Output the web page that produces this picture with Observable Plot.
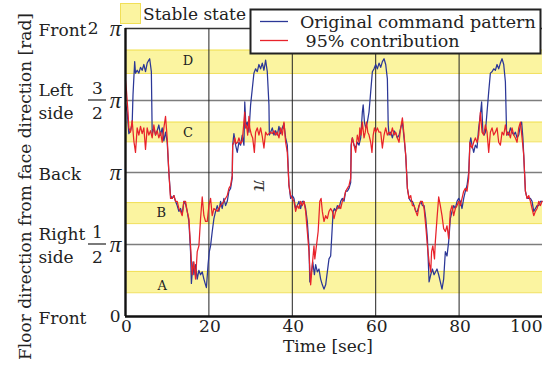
<!DOCTYPE html>
<html><head><meta charset="utf-8">
<script src="https://cdn.jsdelivr.net/npm/d3@7"></script>
<script src="https://cdn.jsdelivr.net/npm/@observablehq/plot@0.6"></script>
<style>
body{margin:0;background:#fff;}
#chart{width:551px;height:365px;}
</style></head><body><div id="chart"></div>
<script>
// time [sec], floor direction [units of π rad]
const originalPattern = [
[0.0,1.48],[0.4,1.42],[0.8,1.27],[1.2,1.29],[1.6,1.34],[1.8,1.54],[2.2,1.77],[2.4,1.69],[2.8,1.71],[3.2,1.69],[3.6,1.73],[4.0,1.71],[4.4,1.75],[4.8,1.70],[5.2,1.76],[5.6,1.78],[5.8,1.79],[6.2,1.70],[6.4,1.27],[6.8,1.31],[7.2,1.26],[7.6,1.29],[8.0,1.33],[8.4,1.26],[8.8,1.31],[9.2,1.22],[9.6,1.28],[10.0,1.21],[10.4,1.00],[10.8,0.84],[11.2,0.82],[11.6,0.84],[12.0,0.80],[12.4,0.77],[12.8,0.73],[13.2,0.75],[13.6,0.71],[14.0,0.80],[14.4,0.78],[14.8,0.73],[15.2,0.66],[15.6,0.45],[15.8,0.23],[16.2,0.38],[16.4,0.29],[16.8,0.36],[17.2,0.26],[17.6,0.32],[18.0,0.29],[18.4,0.31],[18.8,0.26],[19.2,0.22],[19.4,0.20],[19.8,0.36],[20.1,0.45],[20.4,0.49],[20.8,0.59],[21.2,0.68],[21.6,0.73],[22.0,0.77],[22.4,0.73],[22.8,0.80],[23.2,0.75],[23.6,0.82],[24.0,0.77],
[24.4,0.80],[24.8,0.87],[25.2,0.89],[25.6,0.96],[25.7,1.19],[26.0,1.27],[26.4,1.19],[26.8,1.14],[27.2,1.21],[27.6,1.19],[28.0,1.26],[28.4,1.19],[28.6,1.49],[28.9,1.31],[29.2,1.35],[29.6,1.28],[30.0,1.47],[30.4,1.58],[30.8,1.69],[31.2,1.72],[31.6,1.70],[32.0,1.75],[32.4,1.72],[32.8,1.76],[33.2,1.71],[33.6,1.78],[34.0,1.70],[34.4,1.47],[34.5,1.26],[34.8,1.28],[35.2,1.31],[35.6,1.26],[36.0,1.29],[36.4,1.26],[36.8,1.32],[37.2,1.27],[37.6,1.31],[38.0,1.34],[38.4,1.24],[38.8,1.19],[39.2,0.91],[39.6,0.82],[40.0,0.84],[40.4,0.82],[40.8,0.75],[41.2,0.77],[41.6,0.80],[42.0,0.75],[42.4,0.80],[42.8,0.80],[43.2,0.75],[43.6,0.66],[44.0,0.49],[44.2,0.24],[44.6,0.31],[44.9,0.38],[45.3,0.29],[45.6,0.36],[46.0,0.31],[46.4,0.33],[46.8,0.26],[47.2,0.22],[47.6,0.19],[48.0,0.22],[48.4,0.31],[48.8,0.40],
[49.2,0.42],[49.6,0.63],[49.8,0.73],[50.1,0.75],[50.4,0.73],[50.8,0.77],[51.2,0.75],[51.6,0.80],[52.0,0.82],[52.4,0.80],[52.8,0.87],[53.2,0.87],[53.6,0.89],[54.0,0.93],[54.1,1.19],[54.4,1.24],[54.8,1.19],[55.2,1.17],[55.6,1.21],[56.0,1.19],[56.4,1.24],[56.8,1.42],[57.0,1.47],[57.3,1.35],[57.6,1.31],[58.0,1.35],[58.4,1.42],[58.8,1.56],[59.2,1.70],[59.6,1.72],[60.0,1.75],[60.4,1.72],[60.8,1.76],[61.2,1.73],[61.6,1.77],[62.0,1.79],[62.4,1.75],[62.8,1.65],[63.0,1.33],[63.2,1.26],[63.6,1.28],[64.0,1.24],[64.4,1.29],[64.8,1.27],[65.2,1.24],[65.6,1.26],[66.0,1.31],[66.4,1.35],[66.8,1.24],[67.2,1.12],[67.6,0.89],[68.0,0.82],[68.4,0.80],[68.8,0.80],[69.2,0.77],[69.6,0.73],[70.0,0.73],[70.4,0.77],[70.8,0.80],[71.2,0.77],[71.6,0.77],[72.0,0.68],[72.4,0.54],[72.8,0.24],[73.2,0.29],[73.6,0.33],[74.0,0.29],
[74.7,0.33],[75.1,0.29],[75.5,0.24],[75.9,0.19],[76.3,0.26],[76.7,0.45],[77.1,0.42],[77.5,0.52],[77.9,0.68],[78.3,0.73],[78.7,0.77],[79.1,0.75],[79.5,0.80],[79.9,0.82],[80.3,0.80],[80.7,0.75],[81.1,0.82],[81.5,0.87],[81.9,0.91],[82.3,1.00],[82.6,1.21],[82.8,1.24],[83.1,1.19],[83.5,1.14],[83.9,1.19],[84.3,1.17],[84.7,1.31],[85.1,1.40],[85.4,1.49],[85.7,1.28],[86.0,1.26],[86.3,1.28],[86.7,1.42],[87.1,1.56],[87.5,1.69],[87.9,1.70],[88.3,1.72],[88.7,1.71],[89.1,1.75],[89.5,1.72],[89.9,1.76],[90.3,1.79],[90.7,1.75],[91.1,1.63],[91.4,1.26],[91.6,1.28],[91.9,1.26],[92.3,1.31],[92.7,1.28],[93.1,1.26],[93.5,1.28],[93.9,1.24],[94.3,1.26],[94.7,1.33],[95.0,1.35],[95.3,1.24],[95.5,1.12],[95.9,0.87],[96.3,0.82],[96.7,0.82],[97.1,0.82],[97.5,0.80],[97.9,0.73],[98.3,0.75],[98.7,0.77],[99.1,0.77],[99.5,0.80],[99.9,0.80]
];
const contribution95 = [
[0.0,1.64],[0.2,1.58],[0.6,1.42],[0.8,1.31],[1.2,1.28],[1.6,1.36],[2.0,1.22],[2.4,1.14],[2.8,1.31],[3.2,1.26],[3.6,1.32],[4.0,1.27],[4.4,1.31],[4.8,1.16],[5.2,1.31],[5.6,1.26],[6.0,1.29],[6.4,1.24],[6.8,1.33],[7.2,1.26],[7.6,1.29],[8.0,1.24],[8.4,1.28],[8.8,1.21],[9.2,1.31],[9.6,1.39],[10.0,1.24],[10.4,1.00],[10.8,0.82],[11.2,0.82],[11.6,0.84],[12.0,0.80],[12.4,0.80],[12.8,0.75],[13.2,0.73],[13.6,0.70],[14.0,0.80],[14.4,0.80],[14.8,0.73],[15.2,0.68],[15.6,0.49],[16.0,0.29],[16.4,0.38],[16.8,0.26],[17.2,0.45],[17.6,0.49],[18.0,0.68],[18.4,0.83],[18.8,0.70],[19.2,0.66],[19.6,0.66],[20.0,0.77],[20.4,0.82],[20.8,0.70],[21.2,0.75],[22.0,0.73],[22.8,0.77],[23.6,0.80],
[24.4,0.84],[24.8,0.89],[25.2,0.91],[25.6,0.98],[25.7,1.19],[26.0,1.21],[26.2,1.24],[26.5,1.20],[26.9,1.21],[27.2,1.24],[27.6,1.20],[28.0,1.22],[28.4,1.35],[28.6,1.42],[28.8,1.31],[29.0,1.33],[29.3,1.26],[29.6,1.39],[29.8,1.31],[30.2,1.26],[30.5,1.24],[30.9,1.14],[31.2,1.28],[31.6,1.31],[32.0,1.26],[32.4,1.31],[32.8,1.25],[33.2,1.17],[33.6,1.28],[34.0,1.26],[34.4,1.27],[34.8,1.28],[35.2,1.27],[35.6,1.29],[36.0,1.26],[36.4,1.28],[36.8,1.24],[37.2,1.31],[37.6,1.26],[38.0,1.35],[38.4,1.21],[38.8,1.14],[39.2,0.91],[39.6,0.84],[40.0,0.82],[40.4,0.80],[40.8,0.73],[41.2,0.77],[41.6,0.75],[42.0,0.80],[42.4,0.77],[42.8,0.80],[43.2,0.73],[43.6,0.59],[44.0,0.45],[44.4,0.22],[44.8,0.36],[45.2,0.49],[45.4,0.40],[45.7,0.47],[46.2,0.59],[46.6,0.80],[46.9,0.82],[47.2,0.73],[47.6,0.66],[48.0,0.70],[48.4,0.68],[48.8,0.73],
[49.2,0.75],[49.6,0.73],[50.0,0.68],[50.4,0.73],[50.8,0.75],[51.2,0.77],[51.6,0.75],[52.0,0.80],[52.4,0.82],[52.8,0.87],[53.2,0.89],[53.6,0.91],[54.0,0.96],[54.2,1.21],[54.4,1.24],[54.8,1.19],[55.2,1.14],[55.6,1.26],[56.0,1.21],[56.2,1.31],[56.5,1.26],[56.8,1.35],[57.2,1.24],[57.5,1.28],[57.8,1.35],[58.1,1.28],[58.4,1.26],[58.8,1.21],[59.1,1.14],[59.4,1.26],[59.7,1.31],[60.0,1.28],[60.4,1.31],[60.8,1.28],[61.2,1.28],[61.6,1.17],[62.0,1.26],[62.4,1.31],[62.8,1.26],[63.2,1.28],[63.6,1.26],[64.0,1.31],[64.4,1.26],[64.8,1.28],[65.2,1.24],[65.6,1.21],[66.0,1.31],[66.4,1.38],[66.8,1.26],[67.2,1.12],[67.6,0.89],[68.0,0.82],[68.4,0.84],[68.8,0.77],[69.2,0.77],[69.6,0.73],[70.0,0.70],[70.4,0.77],[70.8,0.80],[71.2,0.80],[71.6,0.75],[72.0,0.63],[72.4,0.49],[72.8,0.38],[73.2,0.31],[73.4,0.45],[73.7,0.49],[74.1,0.40],[74.3,0.52],
[74.7,0.68],[75.1,0.83],[75.5,0.77],[75.9,0.70],[76.3,0.61],[76.7,0.59],[77.1,0.63],[77.5,0.54],[77.9,0.73],[78.3,0.77],[78.7,0.70],[79.1,0.75],[79.5,0.77],[79.9,0.80],[80.3,0.77],[80.7,0.82],[81.1,0.87],[81.5,0.89],[81.9,0.87],[82.3,0.96],[82.6,1.21],[82.8,1.19],[83.1,1.17],[83.5,1.21],[83.9,1.24],[84.3,1.21],[84.7,1.26],[85.1,1.42],[85.5,1.28],[85.9,1.26],[86.3,1.33],[86.7,1.28],[87.1,1.14],[87.5,1.28],[87.9,1.31],[88.3,1.26],[88.7,1.28],[89.1,1.31],[89.5,1.21],[89.9,1.19],[90.3,1.28],[90.7,1.26],[91.1,1.33],[91.5,1.26],[91.9,1.28],[92.3,1.24],[92.7,1.31],[93.1,1.26],[93.5,1.24],[93.9,1.21],[94.3,1.31],[94.7,1.35],[95.1,1.24],[95.5,1.12],[95.9,0.87],[96.3,0.82],[96.7,0.84],[97.1,0.80],[97.5,0.75],[97.9,0.70],[98.3,0.73],[98.7,0.75],[99.1,0.80],[99.5,0.77],[99.9,0.80]
];

// stable-state bands (units of π rad)
const bandNames = ["A", "B", "C", "D"];
const bandLow = [0.165, 0.645, 1.213, 1.688];
const bandHigh = [0.313, 0.791, 1.350, 1.850];
const bandLabelTime = [8.8, 8.6, 15, 15];
const bandLabelValue = [0.216, 0.72, 1.273, 1.774];

const xTicks = [0, 20, 40, 60, 80, 100];
const xGrid = [20, 40, 60, 80];
const yTicks = [0, 0.5, 1, 1.5, 2];
const yTickNames = ["Front", "Right\nside", "Back", "Left\nside", "Front"];
const yTickCoef = ["0", "1/2", "", "3/2", "2"];
const yTickPi = [false, true, true, true, true];
const yGrid = [0.5, 1, 1.5];
const strayGlyph = {t: 32.4, v: 0.91, text: "π"};

const xLabel = "Time [sec]";
const yLabel = "Floor direction from face direction [rad]";
const legendBand = "Stable state";
const seriesNames = ["Original command pattern", " 95% contribution"];
const seriesColors = ["#2b3797", "#e8232b"];
const bandFill = "#fbf4a0", bandEdge = "#f1df57";

const bands = bandNames.map((n, i) => ({n, lo: bandLow[i], hi: bandHigh[i], lx: bandLabelTime[i], ly: bandLabelValue[i]}));
const bandEdges = bands.flatMap(b => [b.lo, b.hi]);
const yt = yTicks.map((v, i) => ({v, name: yTickNames[i], coef: yTickCoef[i], pi: yTickPi[i]}));
const zeroCoef = yt.filter(d => d.coef && !d.coef.includes("/") && !d.pi);
const wholeCoef = yt.filter(d => d.coef && !d.coef.includes("/") && d.pi);
const fracCoef = yt.filter(d => d.coef.includes("/")).map(d => ({v: d.v, num: d.coef.split("/")[0], den: d.coef.split("/")[1]}));
const font = '"DejaVu Serif", serif';
const piFont = '"Liberation Serif", serif';

const plot = Plot.plot({
  width: 551, height: 365,
  marginLeft: 125, marginRight: 9, marginTop: 28, marginBottom: 49,
  style: {fontFamily: font, fontSize: "17px", background: "#fff", color: "#222"},
  x: {domain: [0, 100], axis: null},
  y: {domain: [0, 2], axis: null},
  marks: [
    Plot.rect(bands, {y1: "lo", y2: "hi", fill: bandFill}),
    Plot.ruleY(bandEdges, {stroke: bandEdge, strokeWidth: 1}),
    Plot.ruleY(yGrid, {stroke: "#7d7d7d", strokeWidth: 1.5}),
    Plot.ruleY([2], {stroke: "#333", strokeWidth: 1.3}),
    Plot.ruleX(xGrid, {stroke: "#222", strokeWidth: 1}),
    Plot.text(bands, {x: "lx", y: "ly", text: "n", fontSize: 13, fill: "#222"}),
    Plot.text([strayGlyph], {x: "t", y: "v", text: "text", rotate: 90, fontSize: 22, fontFamily: piFont, fontStyle: "italic", fill: "#333"}),
    Plot.line(originalPattern, {x: d => d[0], y: d => d[1], stroke: seriesColors[0], strokeWidth: 1.25}),
    Plot.line(contribution95, {x: d => d[0], y: d => d[1], stroke: seriesColors[1], strokeWidth: 1.25}),
    Plot.ruleX([0], {stroke: "#111", strokeWidth: 2.4}),
    Plot.ruleY([0], {stroke: "#111", strokeWidth: 2.4}),
    // x tick labels
    Plot.text(xTicks.filter(d => d < 100), {x: d => d, frameAnchor: "bottom", dy: 15, dx: 1, text: d => String(d), textAnchor: "middle", fill: "#222"}),
    Plot.text(xTicks.filter(d => d >= 100), {x: d => d, frameAnchor: "bottom", dy: 15, textAnchor: "end", text: d => String(d), fill: "#222"}),
    Plot.text([xLabel], {frameAnchor: "bottom", dy: 35, dx: -6, textAnchor: "middle", fill: "#222"}),
    // y tick labels
    Plot.text(yt, {y: "v", text: "name", frameAnchor: "left", dx: -87, textAnchor: "start", lineHeight: 1.35, fill: "#222"}),
    Plot.text(zeroCoef, {y: "v", text: "coef", frameAnchor: "left", textAnchor: "end", dx: -5, fill: "#222"}),
    Plot.text(wholeCoef, {y: "v", text: "coef", frameAnchor: "left", textAnchor: "end", dx: -27, fill: "#222"}),
    Plot.text(fracCoef, {y: "v", text: "num", frameAnchor: "left", textAnchor: "middle", dx: -28, dy: -12, fill: "#222"}),
    Plot.text(fracCoef, {y: "v", text: "den", frameAnchor: "left", textAnchor: "middle", dx: -28, dy: 13, fill: "#222"}),
    Plot.text(yt.filter(d => d.pi), {y: "v", text: () => "π", frameAnchor: "left", textAnchor: "middle", dx: -10, dy: 0, fontSize: 23, fontFamily: piFont, fontStyle: "italic", fill: "#222"}),
    Plot.text([yLabel], {frameAnchor: "left", textAnchor: "middle", dx: -100, dy: 14, rotate: -90, fill: "#222", fontSize: 17})
  ]
});
document.getElementById("chart").append(plot);

const svg = d3.select(plot);
const ys = plot.scale("y"), xs = plot.scale("x");
// fraction bars for tick labels
for (const f of fracCoef) {
  const y = ys.apply(f.v);
  const x0 = xs.apply(0);
  svg.append("line").attr("x1", x0 - 37).attr("x2", x0 - 19).attr("y1", y).attr("y2", y)
    .attr("stroke", "#222").attr("stroke-width", 1.2);
}
// legends
const lg = svg.append("g").attr("font-family", font).attr("font-size", 17).attr("fill", "#222").attr("text-anchor", "start");
lg.append("rect").attr("x", 120.5).attr("y", 3.5).attr("width", 20).attr("height", 20)
  .attr("fill", bandFill).attr("stroke", bandEdge);
lg.append("text").attr("x", 143).attr("y", 20).text(legendBand);
lg.append("rect").attr("x", 250.5).attr("y", 9.5).attr("width", 290).attr("height", 44)
  .attr("fill", "#fff").attr("stroke", "#222").attr("stroke-width", 2);
seriesNames.forEach((name, i) => {
  const y = 21.5 + i * 19;
  lg.append("line").attr("x1", 260).attr("x2", 288).attr("y1", y).attr("y2", y)
    .attr("stroke", seriesColors[i]).attr("stroke-width", 1.3);
  lg.append("text").attr("x", 300).attr("y", y + 6).attr("font-size", 17.5).style("white-space", "pre").text(name);
});
</script></body></html>
